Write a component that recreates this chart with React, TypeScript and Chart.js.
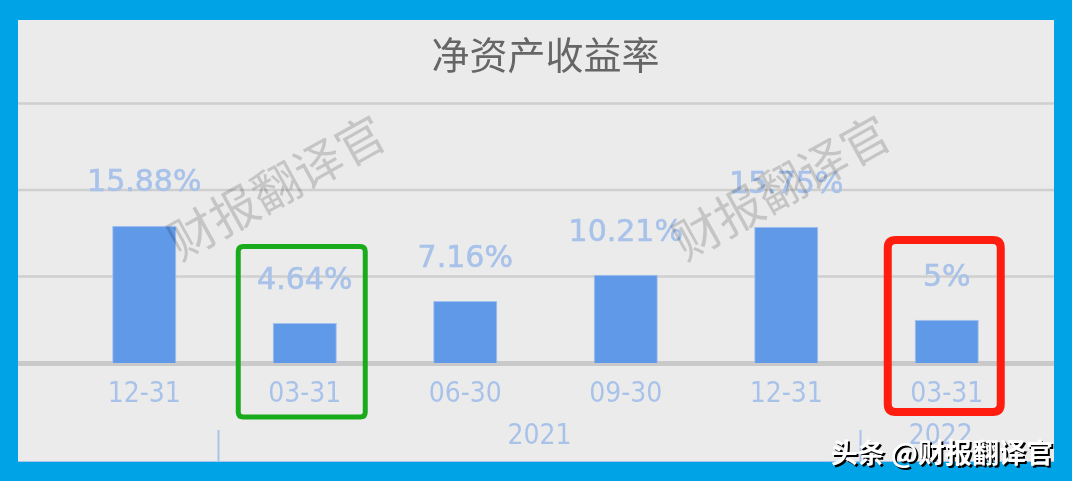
import React, { useEffect, useRef } from 'react';
import { Chart, registerables } from 'chart.js';

Chart.register(...registerables);

// ---- data ----
const TITLE = '净资产收益率';
const CATEGORIES = ['12-31', '03-31', '06-30', '09-30', '12-31', '03-31'];
const ROE_VALUES = [15.88, 4.64, 7.16, 10.21, 15.75, 5];
const VALUE_LABELS = ['15.88%', '4.64%', '7.16%', '10.21%', '15.75%', '5%'];
const YEAR_LABELS = ['2021', '2022'];
const YEAR_START_INDEX = [1, 5];
const YEAR_END_INDEX = [4, 5];
const Y_GRID_VALUES = [0, 10, 20, 30];
const WATERMARK_TEXT = '财报翻译官';
const FOOTER_TEXT = '头条 @财报翻译官';
const GREEN_BOX_INDEX = 1;
const RED_BOX_INDEX = 5;

// ---- styles ----
const BORDER_BLUE = '#00a4e6';
const PANEL_GRAY = '#ebebeb';
const BAR_BLUE = '#6099e8';
const LABEL_BLUE = '#a8c2e9';
const CJK = '"Noto Sans CJK SC", "Noto Sans", sans-serif';
const COND = '"DejaVu Sans Condensed", "DejaVu Sans", sans-serif';
const WIDE = '"DejaVu Sans", Verdana, sans-serif';

function roundRect(ctx: CanvasRenderingContext2D, x: number, y: number, w: number, h: number, r: number) {
  ctx.beginPath();
  ctx.moveTo(x + r, y);
  ctx.lineTo(x + w - r, y);
  ctx.quadraticCurveTo(x + w, y, x + w, y + r);
  ctx.lineTo(x + w, y + h - r);
  ctx.quadraticCurveTo(x + w, y + h, x + w - r, y + h);
  ctx.lineTo(x + r, y + h);
  ctx.quadraticCurveTo(x, y + h, x, y + h - r);
  ctx.lineTo(x, y + r);
  ctx.quadraticCurveTo(x, y, x + r, y);
  ctx.closePath();
}

const decorPlugin = {
  id: 'decor',
  beforeDraw(chart: any) {
    const { ctx, width, height } = chart;
    const ys = chart.scales.y;
    ctx.save();
    ctx.fillStyle = BORDER_BLUE;
    ctx.fillRect(0, 0, width, height);
    ctx.fillStyle = PANEL_GRAY;
    ctx.fillRect(18, 20, 1036, 442);
    Y_GRID_VALUES.forEach((v) => {
      const py = ys.getPixelForValue(v);
      ctx.beginPath();
      if (v === 0) {
        ctx.lineWidth = 5;
        ctx.strokeStyle = '#c9c9c9';
        ctx.moveTo(18, py + 0.5);
        ctx.lineTo(1054, py + 0.5);
      } else {
        ctx.lineWidth = 2.5;
        ctx.strokeStyle = '#cfcfcf';
        ctx.moveTo(18, py);
        ctx.lineTo(1054, py);
      }
      ctx.stroke();
    });
    // bottom thin line
    ctx.fillStyle = '#a9c6ea';
    ctx.fillRect(18, 461, 1036, 1);
    ctx.restore();
  },
  afterDatasetsDraw(chart: any) {
    const { ctx } = chart;
    const xs = chart.scales.x;
    const meta = chart.getDatasetMeta(0);
    ctx.save();
    // value labels
    ctx.font = `30px ${WIDE}`;
    ctx.fillStyle = LABEL_BLUE;
    ctx.strokeStyle = LABEL_BLUE;
    ctx.lineWidth = 0.6;
    ctx.textAlign = 'center';
    ctx.textBaseline = 'middle';
    meta.data.forEach((bar: any, i: number) => {
      ctx.fillText(VALUE_LABELS[i], bar.x, bar.y - 42);
      ctx.strokeText(VALUE_LABELS[i], bar.x, bar.y - 42);
    });
    // year row
    ctx.font = `28px ${COND}`;
    ctx.lineWidth = 2;
    YEAR_LABELS.forEach((label, i) => {
      const left = xs.getPixelForValue(YEAR_START_INDEX[i] - 0.5) - 6;
      const right = xs.getPixelForValue(YEAR_END_INDEX[i] + 0.5) - 6;
      ctx.beginPath();
      ctx.moveTo(left, 430);
      ctx.lineTo(left, 462);
      ctx.stroke();
      ctx.fillText(label, (left + right) / 2, 437);
    });
    ctx.restore();
  },
  afterDraw(chart: any) {
    const { ctx } = chart;
    const meta = chart.getDatasetMeta(0);
    ctx.save();
    // watermarks
    ctx.font = `48px ${CJK}`;
    ctx.fillStyle = 'rgba(0,0,0,0.16)';
    ctx.textAlign = 'center';
    ctx.textBaseline = 'middle';
    [[276, 187], [781, 187]].forEach(([cx, cy]) => {
      ctx.save();
      ctx.translate(cx, cy);
      ctx.rotate((-29 * Math.PI) / 180);
      ctx.fillText(WATERMARK_TEXT, 0, 0);
      ctx.restore();
    });
    // highlight boxes
    const gx = meta.data[GREEN_BOX_INDEX].x;
    ctx.strokeStyle = '#1aab1c';
    ctx.lineWidth = 5;
    roundRect(ctx, gx - 66.5, 246.5, 127, 170.5, 5);
    ctx.stroke();
    const rx = meta.data[RED_BOX_INDEX].x;
    ctx.strokeStyle = '#ff1d10';
    ctx.lineWidth = 8;
    roundRect(ctx, rx - 59, 240, 113, 172, 8);
    ctx.stroke();
    // footer
    ctx.font = `bold 27px ${CJK}`;
    ctx.textAlign = 'right';
    ctx.textBaseline = 'middle';
    ctx.fillStyle = '#000';
    ctx.fillText(FOOTER_TEXT, 1055, 455);
    ctx.fillStyle = '#ffffff';
    ctx.fillText(FOOTER_TEXT, 1053, 453);
    ctx.restore();
  },
};

export default function App() {
  const canvasRef = useRef<HTMLCanvasElement | null>(null);

  useEffect(() => {
    document.body.style.margin = '0';
    const canvas = canvasRef.current;
    if (!canvas) return;
    const chart = new Chart(canvas, {
      type: 'bar',
      data: {
        labels: CATEGORIES,
        datasets: [
          {
            data: ROE_VALUES,
            backgroundColor: BAR_BLUE,
            borderColor: '#a3c1ee',
            borderWidth: 1,
            barPercentage: 0.4,
            categoryPercentage: 1,
          },
        ],
      },
      options: {
        responsive: false,
        animation: false,
        layout: { padding: { left: 64, right: 45, top: 0, bottom: 0 } },
        plugins: {
          legend: { display: false },
          tooltip: { enabled: false },
          title: {
            display: true,
            text: TITLE,
            color: '#666666',
            font: { family: CJK, size: 38, weight: 'normal' },
            padding: { top: 32, bottom: 26 },
          },
        },
        scales: {
          y: { display: false, min: 0, max: 30 },
          x: {
            grid: { display: false, drawTicks: false },
            border: { display: false },
            ticks: {
              color: LABEL_BLUE,
              font: { family: COND, size: 28 },
              padding: 15,
              autoSkip: false,
              maxRotation: 0,
            },
            afterFit: (scale: any) => {
              scale.height = 118;
            },
          },
        },
      },
      plugins: [decorPlugin],
    });
    return () => chart.destroy();
  }, []);

  return (
    <div style={{ position: 'fixed', left: 0, top: 0, width: 1072, height: 481 }}>
      <canvas ref={canvasRef} width={1072} height={481} />
    </div>
  );
}
